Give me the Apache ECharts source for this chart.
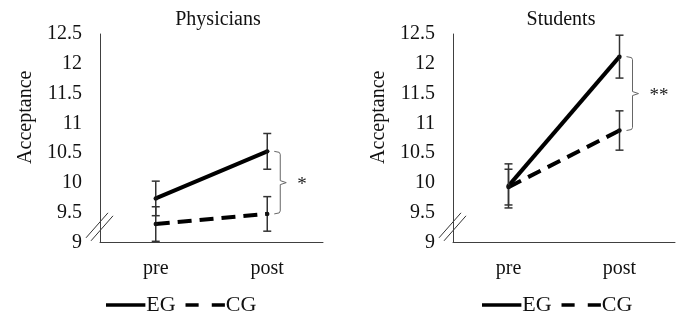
<!DOCTYPE html>
<html><head><meta charset="utf-8">
<script src="https://cdn.jsdelivr.net/npm/echarts@6/dist/echarts.min.js"></script>
<style>html,body{margin:0;padding:0;background:#fff}#c{width:681px;height:316px}</style>
</head><body><div id="c"></div>
<script>
var categories = ['pre', 'post'];
var panelTitles = ['Physicians', 'Students'];
var yTicks = [9, 9.5, 10, 10.5, 11, 11.5, 12, 12.5];
var physEG = [9.74, 10.53];
var physEGerr = [0.29, 0.30];
var physCG = [9.31, 9.48];
var physCGerr = [0.29, 0.29];
var studEG = [9.95, 12.12];
var studEGerr = [0.37, 0.36];
var studCG = [9.93, 10.88];
var studCGerr = [0.30, 0.33];
var significance = ['*', '**'];

var FONT = '"Liberation Serif", "Times New Roman", serif';
var AX = '#404040';
var chart = echarts.init(document.getElementById('c'));

var grids = [
  {left: 100, top: 34, width: 223, height: 208.5},
  {left: 453, top: 34, width: 222, height: 208.5}
];

function errRender(params, api) {
  var i = api.value(0), m = api.value(1), e = api.value(2);
  var t = api.coord([i, m + e]), b = api.coord([i, m - e]), c = api.coord([i, m]);
  var w = 4;
  var st = {stroke: '#333', lineWidth: 1.5};
  return {type: 'group', children: [
    {type: 'line', shape: {x1: t[0], y1: t[1], x2: b[0], y2: b[1]}, style: st},
    {type: 'line', shape: {x1: t[0] - w, y1: t[1], x2: t[0] + w, y2: t[1]}, style: st},
    {type: 'line', shape: {x1: b[0] - w, y1: b[1], x2: b[0] + w, y2: b[1]}, style: st},
    {type: 'circle', shape: {cx: c[0], cy: c[1], r: 2.2}, style: {fill: '#111'}}
  ]};
}

function bracketRender(params, api) {
  var i = api.value(0), hi = api.value(1), lo = api.value(2);
  var p1 = api.coord([i, hi]), p2 = api.coord([i, lo]);
  var x = p1[0] + 13, mid = (p1[1] + p2[1]) / 2;
  var st = {stroke: '#666', lineWidth: 1, fill: null};
  return {type: 'group', children: [
    {type: 'polyline', shape: {points: [[x - 6, p1[1]], [x - 1, p1[1] + 1], [x, p1[1] + 3], [x, mid - 2], [x + 6, mid], [x, mid + 2], [x, p2[1] - 3], [x - 1, p2[1] - 1], [x - 6, p2[1]]]}, style: st},
    {type: 'text', style: {text: api.value(3) === 1 ? significance[0] : significance[1], x: x + 17, y: mid + 2, align: 'left', verticalAlign: 'middle', font: '19px ' + FONT, fill: '#222'}}
  ]};
}

var xAxes = [], yAxes = [], series = [], titles = [];
var sets = [[physEG, physEGerr, physCG, physCGerr], [studEG, studEGerr, studCG, studCGerr]];
for (var g = 0; g < 2; g++) {
  xAxes.push({type: 'category', gridIndex: g, data: categories, boundaryGap: true,
    axisLine: {lineStyle: {color: AX, width: 1}}, axisTick: {show: false},
    axisLabel: {color: '#111', fontFamily: FONT, fontSize: 20, margin: 16}});
  yAxes.push({type: 'value', gridIndex: g, min: yTicks[0], max: yTicks[yTicks.length - 1], interval: 0.5,
    name: 'Acceptance', nameLocation: 'middle', nameGap: 64, nameRotate: 90,
    nameTextStyle: {color: '#111', fontFamily: FONT, fontSize: 20, padding: [0, 0, 0, 42]},
    axisLine: {show: true, lineStyle: {color: AX, width: 1}}, axisTick: {show: false}, splitLine: {show: false},
    axisLabel: {color: '#111', fontFamily: FONT, fontSize: 20, margin: 18}});
  var d = sets[g];
  series.push({name: 'EG', type: 'line', xAxisIndex: g, yAxisIndex: g, data: d[0], symbol: 'none',
    itemStyle: {color: '#000'}, lineStyle: {color: '#000', width: 4}, z: 3});
  series.push({name: 'CG', type: 'line', xAxisIndex: g, yAxisIndex: g, data: d[2], symbol: 'none',
    itemStyle: {color: '#000'}, lineStyle: {color: '#000', width: 4, type: [14, 8]}, z: 3});
  var errData = [];
  for (var k = 0; k < categories.length; k++) {
    errData.push([k, d[0][k], d[1][k]]);
    errData.push([k, d[2][k], d[3][k]]);
  }
  series.push({type: 'custom', xAxisIndex: g, yAxisIndex: g, renderItem: errRender, data: errData, z: 4, silent: true});
  series.push({type: 'custom', xAxisIndex: g, yAxisIndex: g, renderItem: bracketRender,
    data: [[1, d[0][1], d[2][1], g + 1]], z: 4, silent: true});
}
titles.push({text: panelTitles[0], left: 213, top: 5, textAlign: 'center', textStyle: {fontFamily: FONT, fontSize: 20, fontWeight: 'normal', color: '#111'}});
titles.push({text: panelTitles[1], left: 556, top: 5, textAlign: 'center', textStyle: {fontFamily: FONT, fontSize: 20, fontWeight: 'normal', color: '#111'}});

var legendData = [
  {name: 'EG', icon: 'path://M0,0H45V4H0Z'},
  {name: 'CG', icon: 'path://M0,0H15V4H0Z M30,0H45V4H30Z'}
];
var legendCommon = {data: legendData, top: 289, itemWidth: 45, itemHeight: 3.5, itemGap: 10,
  textStyle: {fontFamily: FONT, fontSize: 22, color: '#111', padding: [0, 0, 0, -7]}, selectedMode: false,
  itemStyle: {color: '#000'}};

chart.setOption({
  animation: false,
  title: titles,
  grid: grids,
  xAxis: xAxes,
  yAxis: yAxes,
  legend: [Object.assign({left: 101}, legendCommon), Object.assign({left: 477}, legendCommon)],
  series: series
});

// axis break marks
var gr = [];
for (var g2 = 0; g2 < 2; g2++) {
  var p = chart.convertToPixel({xAxisIndex: g2, yAxisIndex: g2}, [0, 9.28]);
  var ax = grids[g2].left;
  var cy = p[1];
  gr.push({type: 'line', shape: {x1: ax - 14, y1: cy + 12, x2: ax + 8, y2: cy - 13}, style: {stroke: '#333', lineWidth: 1}});
  gr.push({type: 'line', shape: {x1: ax - 9, y1: cy + 15, x2: ax + 13, y2: cy - 10}, style: {stroke: '#333', lineWidth: 1}});
}
chart.setOption({graphic: gr});
</script></body></html>
